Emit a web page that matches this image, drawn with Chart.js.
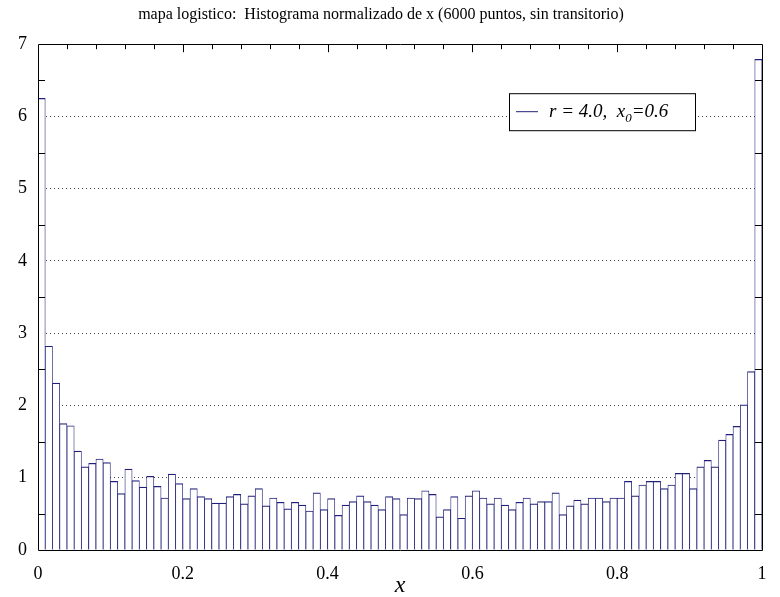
<!DOCTYPE html>
<html>
<head>
<meta charset="utf-8">
<script src="https://cdn.jsdelivr.net/npm/chart.js@4.4.1/dist/chart.umd.min.js"></script>
<style>
  body { margin: 0; background: #fff; }
  canvas { display: block; }
</style>
</head>
<body>
<canvas id="hist" width="780" height="597"></canvas>
<script>
// normalized histogram of x, 100 bins on [0, 1]
const density = [
  6.25, 2.82, 2.31, 1.75, 1.72, 1.37, 1.15, 1.20, 1.26, 1.21,
  0.95, 0.78, 1.12, 0.96, 0.87, 1.02, 0.88, 0.72, 1.05, 0.92,
  0.71, 0.85, 0.74, 0.71, 0.65, 0.65, 0.74, 0.77, 0.64, 0.75,
  0.85, 0.61, 0.72, 0.66, 0.57, 0.66, 0.62, 0.54, 0.79, 0.56,
  0.71, 0.48, 0.62, 0.67, 0.75, 0.67, 0.62, 0.56, 0.74, 0.71,
  0.49, 0.72, 0.71, 0.82, 0.77, 0.46, 0.56, 0.74, 0.44, 0.75,
  0.82, 0.72, 0.64, 0.72, 0.62, 0.56, 0.66, 0.72, 0.64, 0.67,
  0.67, 0.79, 0.49, 0.61, 0.69, 0.64, 0.72, 0.72, 0.67, 0.72,
  0.72, 0.95, 0.75, 0.90, 0.95, 0.95, 0.85, 0.90, 1.06, 1.06,
  0.85, 1.15, 1.24, 1.15, 1.52, 1.60, 1.71, 2.01, 2.47, 6.79
];
const binWidth = 0.01;
const xTickValues = [0, 0.2, 0.4, 0.6, 0.8, 1];
const xTickLabels = ['0', '0.2', '0.4', '0.6', '0.8', '1'];
const yTickValues = [0, 1, 2, 3, 4, 5, 6, 7];
const titleText = 'mapa logistico:  Histograma normalizado de x (6000 puntos, sin transitorio)';
const seriesLabel = 'r = 4.0,  x0=0.6';

const serif = "'Liberation Serif', 'DejaVu Serif', serif";
const barColor = '#20207a';

const points = density.map((v, i) => ({ x: (i + 0.5) * binWidth, y: v }));

// box + inward ticks + legend, drawn over the bars
const framePlugin = {
  id: 'frame',
  afterDatasetsDraw(chart) {
    const { ctx, chartArea: a, scales } = chart;
    const xs = scales.x, ys = scales.y;
    ctx.save();
    ctx.strokeStyle = '#000';
    ctx.lineWidth = 1;
    ctx.beginPath();
    ctx.rect(Math.round(a.left) + 0.5, Math.round(a.top) + 0.5,
      Math.round(a.right - a.left), Math.round(a.bottom - a.top));
    ctx.stroke();

    ctx.beginPath();
    for (let k = 1; k < 25; k++) {
      const px = Math.round(xs.getPixelForValue(k * 0.04)) + 0.5;
      const len = k % 5 === 0 ? 8 : 5;
      ctx.moveTo(px, a.top); ctx.lineTo(px, a.top + len);
    }
    for (let k = 0; k < 7; k++) {
      const py = Math.round(ys.getPixelForValue(k + 0.5)) + 0.5;
      ctx.moveTo(a.left, py); ctx.lineTo(a.left + 7, py);
      ctx.moveTo(a.right, py); ctx.lineTo(a.right - 7, py);
    }
    ctx.stroke();

    // legend
    const bx = a.right - 253, by = a.top + 49, bw = 186, bh = 37;
    ctx.fillStyle = '#fff';
    ctx.fillRect(bx, by, bw, bh);
    ctx.strokeRect(bx + 0.5, by + 0.5, bw, bh);
    const cy = by + 18;
    ctx.strokeStyle = barColor;
    ctx.beginPath();
    ctx.moveTo(bx + 7, cy + 0.5); ctx.lineTo(bx + 29, cy + 0.5);
    ctx.stroke();
    ctx.fillStyle = '#000';
    ctx.textBaseline = 'alphabetic';
    let tx = bx + 40;
    const base = cy + 6;
    ctx.font = 'italic 19px ' + serif;
    const part1 = 'r = 4.0,  x';
    ctx.fillText(part1, tx, base);
    tx += ctx.measureText(part1).width;
    ctx.font = 'italic 13px ' + serif;
    ctx.fillText('0', tx, base + 5);
    tx += ctx.measureText('0').width;
    ctx.font = 'italic 19px ' + serif;
    ctx.fillText('=0.6', tx, base);
    ctx.restore();
  }
};

new Chart(document.getElementById('hist'), {
  type: 'bar',
  data: {
    datasets: [{
      label: seriesLabel,
      data: points,
      backgroundColor: '#fff',
      borderColor: barColor,
      borderWidth: { top: 1.2, left: 0.8, right: 0.8, bottom: 0 },
      borderSkipped: false,
      barPercentage: 1,
      categoryPercentage: 1
    }]
  },
  options: {
    responsive: false,
    animation: false,
    layout: { padding: { left: 0, right: 18, top: 0, bottom: 0 } },
    plugins: {
      legend: { display: false },
      tooltip: { enabled: false },
      title: {
        display: true,
        text: titleText,
        color: '#000',
        font: { family: serif, size: 16, weight: 'normal' },
        padding: { top: 5, bottom: 20 }
      }
    },
    scales: {
      x: {
        type: 'linear',
        min: 0,
        max: 1,
        offset: false,
        afterBuildTicks: s => { s.ticks = xTickValues.map(v => ({ value: v })); },
        afterFit: s => { s.height = 47; },
        ticks: {
          color: '#000',
          font: { family: serif, size: 18 },
          padding: 5,
          maxRotation: 0,
          autoSkip: false,
          callback: (v) => xTickLabels[xTickValues.indexOf(v)] ?? ''
        },
        grid: { display: false },
        border: { display: false },
        title: {
          display: true,
          text: 'x',
          color: '#000',
          font: { family: serif, size: 24, style: 'italic' },
          padding: { top: 0, bottom: -3 }
        }
      },
      y: {
        min: 0,
        max: 7,
        afterBuildTicks: s => { s.ticks = yTickValues.map(v => ({ value: v })); },
        afterFit: s => { s.width = 38; },
        ticks: {
          color: '#000',
          font: { family: serif, size: 18 },
          padding: 11
        },
        grid: {
          drawTicks: false,
          lineWidth: 1,
          color: c => (c.tick && c.tick.value > 0 && c.tick.value < 7) ? '#444' : 'rgba(0,0,0,0)'
        },
        border: { display: false, dash: [1, 3] }
      }
    }
  },
  plugins: [framePlugin]
});
</script>
</body>
</html>
